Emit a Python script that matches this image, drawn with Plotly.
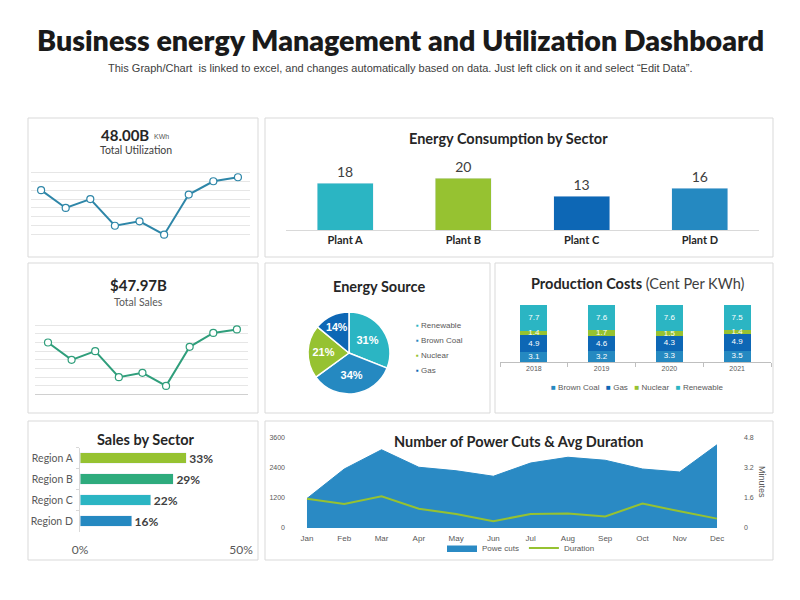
import plotly.graph_objects as go

W, H = 800, 600
def fx(x):
    return x / W
def fy(y):
    return 1 - y / H

# ---------------- DATA ----------------
util_points = [6.0, 4.0, 5.0, 2.0, 2.5, 1.0, 5.5, 7.0, 7.45]
sales_points = [6.0, 4.0, 5.0, 2.0, 2.5, 1.0, 5.5, 7.1, 7.5]

plants = ["Plant A", "Plant B", "Plant C", "Plant D"]
plant_consumption = [18, 20, 13, 16]

sources = ["Renewable", "Brown Coal", "Nuclear", "Gas"]
source_share = [31, 34, 21, 14]

years = ["2018", "2019", "2020", "2021"]
cost_series = ["Brown Coal", "Gas", "Nuclear", "Renewable"]
cost_brown_coal = [3.1, 3.2, 3.3, 3.5]
cost_gas = [4.9, 4.6, 4.3, 4.9]
cost_nuclear = [1.4, 1.7, 1.5, 1.4]
cost_renewable = [7.7, 7.6, 7.6, 7.5]

regions = ["Region A", "Region B", "Region C", "Region D"]
region_sales = [33, 29, 22, 16]
sales_axis_ticks = [0, 50]

months = ["Jan", "Feb", "Mar", "Apr", "May", "Jun",
          "Jul", "Aug", "Sep", "Oct", "Nov", "Dec"]
power_cuts = [1180, 2360, 3130, 2430, 2290, 2070, 2600, 2830, 2710, 2360, 2240, 3330]
duration = [1.56, 1.28, 1.69, 1.03, 0.75, 0.36, 0.75, 0.78, 0.62, 1.30, 0.89, 0.50]
cuts_ticks = [0, 1200, 2400, 3600]
duration_ticks = [0, 1.6, 3.2, 4.8]

# ---------------- COLORS / FONTS ----------------
TEAL = "#2BB5C3"
GREEN = "#96C231"
DBLUE = "#0D67B5"
MBLUE = "#2589C1"
SEAGREEN = "#2EAB7D"
GRAY_TXT = "#595959"
DARK_TXT = "#262626"
BORDER = "#D9D9D9"
TFONT = "Lato"
BFONT = "Liberation Sans"

fig = go.Figure()

# ---------- Panel 1: utilization line ----------
fig.add_trace(go.Scatter(
    x=list(range(len(util_points))), y=util_points, mode="lines+markers",
    line=dict(color="#2E86A8", width=2),
    marker=dict(size=7, color="white", line=dict(color="#2E86A8", width=1.2)),
    xaxis="x", yaxis="y", showlegend=False, hoverinfo="skip"))

# ---------- Panel 2: energy consumption bars ----------
fig.add_trace(go.Bar(
    x=plants, y=plant_consumption, width=0.475,
    marker=dict(color=[TEAL, GREEN, DBLUE, MBLUE]),
    text=plant_consumption, textposition="outside", constraintext="none",
    textfont=dict(size=14, color="#404040", family=TFONT),
    cliponaxis=False, xaxis="x2", yaxis="y2", showlegend=False, hoverinfo="skip"))

# ---------- Panel 3: sales line ----------
fig.add_trace(go.Scatter(
    x=list(range(len(sales_points))), y=sales_points, mode="lines+markers",
    line=dict(color="#2F9E7B", width=2),
    marker=dict(size=7, color="white", line=dict(color="#2F9E7B", width=1.2)),
    xaxis="x3", yaxis="y3", showlegend=False, hoverinfo="skip"))

# ---------- Panel 4: pie ----------
pie_colors = [TEAL, MBLUE, GREEN, DBLUE]
fig.add_trace(go.Pie(
    labels=sources, values=source_share, sort=False, direction="clockwise",
    rotation=0, marker=dict(colors=pie_colors, line=dict(color="white", width=1.5)),
    texttemplate="%{value}%", textposition="inside", insidetextorientation="horizontal",
    textfont=dict(size=11, color="white", family=BFONT, weight="bold"),
    domain=dict(x=[fx(308), fx(390)], y=[fy(394), fy(312)]),
    showlegend=False, hoverinfo="skip"))

# ---------- Panel 5: production costs (100% stacked) ----------
cost_values = [cost_brown_coal, cost_gas, cost_nuclear, cost_renewable]
cost_colors = [MBLUE, DBLUE, GREEN, TEAL]
totals = [sum(col) for col in zip(*cost_values)]
shares = [[v / t * 100 for v, t in zip(vals, totals)] for vals in cost_values]
for name, sh, col in zip(cost_series, shares, cost_colors):
    fig.add_trace(go.Bar(
        x=years, y=sh, name=name, width=0.4, marker=dict(color=col, line=dict(width=0)),
        xaxis="x4", yaxis="y4", showlegend=False, hoverinfo="skip"))
# segment labels (drawn on top of all segments)
cum = [0.0] * len(years)
for vals, sh in zip(cost_values, shares):
    mids = [c + s / 2 for c, s in zip(cum, sh)]
    cum = [c + s for c, s in zip(cum, sh)]
    fig.add_trace(go.Scatter(
        x=years, y=mids, mode="text", text=[f"{v:.1f}" for v in vals],
        textfont=dict(size=8, color="white", family=BFONT),
        xaxis="x4", yaxis="y4", showlegend=False, hoverinfo="skip", cliponaxis=False))

# ---------- Panel 6: sales by sector ----------
fig.add_trace(go.Bar(
    y=regions, x=region_sales, orientation="h", width=0.48,
    marker=dict(color=[GREEN, SEAGREEN, TEAL, MBLUE]),
    texttemplate="%{x}%", textposition="outside", cliponaxis=False, constraintext="none",
    textfont=dict(size=12, color="#404040", family=TFONT, weight="bold"),
    xaxis="x5", yaxis="y5", showlegend=False, hoverinfo="skip"))

# ---------- Panel 7: power cuts & duration ----------
fig.add_trace(go.Scatter(
    x=months, y=power_cuts, mode="lines", fill="tozeroy", name="Powe cuts",
    line=dict(color="#2A8AC4", width=1), fillcolor="#2A8AC4",
    xaxis="x6", yaxis="y6", legend="legend4", hoverinfo="skip"))
fig.add_trace(go.Scatter(
    x=months, y=duration, mode="lines", name="Duration",
    line=dict(color=GREEN, width=2),
    xaxis="x6", yaxis="y7", legend="legend4", hoverinfo="skip"))

hidden = dict(showgrid=False, showticklabels=False, zeroline=False, showline=False, ticks="",
              automargin=False)

panels = [(28, 118, 258, 257), (265, 118, 773, 257), (28, 263, 258, 413),
          (265, 263, 490, 413), (495, 263, 773, 413), (28, 421, 258, 560),
          (265, 421, 773, 560)]
shapes = [dict(type="rect", xref="paper", yref="paper", x0=fx(a), x1=fx(c), y0=fy(d), y1=fy(b),
               line=dict(color=BORDER, width=1), fillcolor="white", layer="below")
          for a, b, c, d in panels]

def ann(text, x, y, size, color=DARK_TXT, family=TFONT, weight="normal", xanchor="center", angle=0):
    return dict(text=text, x=fx(x), y=fy(y), xref="paper", yref="paper", showarrow=False,
                xanchor=xanchor, yanchor="middle", textangle=angle,
                font=dict(size=size, color=color, family=family, weight=weight))

annotations = [
    ann("Business energy Management and Utilization Dashboard", 400, 40, 28.6, "#1A1A1A", TFONT, 800),
    ann("This Graph/Chart  is linked to excel, and changes automatically based on data. Just left click on it and select \u201cEdit Data\u201d.",
        400, 68, 11, "#404040", BFONT),
    ann("48.00B", 125, 135, 15, DARK_TXT, TFONT, "bold"),
    ann("KWh", 161, 136, 7, GRAY_TXT, BFONT),
    ann("Total Utilization", 136, 150, 10.5, "#404040", TFONT),
    ann("Energy Consumption by Sector", 508, 138, 14.5, DARK_TXT, TFONT, "bold"),
    ann("$47.97B", 138, 285, 15, DARK_TXT, TFONT, "bold"),
    ann("Total Sales", 138, 302, 10.5, GRAY_TXT, TFONT),
    ann("Energy Source", 379, 286, 14.5, DARK_TXT, TFONT, "bold"),
    ann("<b>Production Costs</b> <span style='font-weight:normal;color:#404040'>(Cent Per KWh)</span>",
        637, 283, 14.5, DARK_TXT, TFONT),
    ann("Sales by Sector", 146, 440, 14.5, DARK_TXT, TFONT, "bold"),
    ann("Number of Power Cuts & Avg Duration", 518, 441, 14.5, DARK_TXT, TFONT, "bold"),
    ann("Minutes", 762, 482, 9, GRAY_TXT, BFONT, angle=90),
]
# pie legend (text entries built from the categories)
for i, (lab, col) in enumerate(zip(sources, pie_colors)):
    annotations.append(ann(f"<span style='color:{col}'>\u25aa</span> {lab}", 414, 325 + i * 15.3,
                           8, GRAY_TXT, BFONT, xanchor="left"))
# production costs legend
leg_txt = "   ".join(f"<span style='color:{c}'>\u25a0</span> {n}" for n, c in zip(cost_series, cost_colors))
annotations.append(ann(leg_txt, 637, 387, 8, GRAY_TXT, BFONT))

fig.update_layout(
    width=W, height=H, autosize=False,
    margin=dict(l=0, r=0, t=0, b=0, pad=0, autoexpand=False),
    paper_bgcolor="white", plot_bgcolor="rgba(0,0,0,0)",
    font=dict(family=BFONT, color=GRAY_TXT),
    barmode="stack", shapes=shapes, annotations=annotations,
    # Panel 1
    xaxis=dict(domain=[fx(31), fx(250)], range=[-0.41, 8.49], **hidden),
    yaxis=dict(domain=[fy(244), fy(163)], range=[-0.05, 9.05], dtick=1, showgrid=True,
               gridcolor="#E6E6E6", gridwidth=1, zeroline=False, showticklabels=False, anchor="x",
               automargin=False),
    # Panel 2
    xaxis2=dict(domain=[fx(286), fx(759)], type="category", range=[-0.5, 3.5], anchor="y2",
                showline=True, linecolor=BORDER, ticks="", showgrid=False, automargin=False,
                tickfont=dict(size=11, color=DARK_TXT, family=TFONT, weight="bold")),
    yaxis2=dict(domain=[fy(230), fy(165)], range=[0, 25], anchor="x2", **hidden),
    # Panel 3
    xaxis3=dict(domain=[fx(35), fx(248)], range=[-0.55, 8.47], anchor="y3", **hidden),
    yaxis3=dict(domain=[fy(395), fy(316)], range=[-0.05, 9.05], dtick=1, showgrid=True,
                gridcolor="#E6E6E6", zeroline=True, zerolinecolor="#D0D0D0", zerolinewidth=1,
                showticklabels=False, anchor="x3", automargin=False),
    # Panel 5
    xaxis4=dict(domain=[fx(500), fx(771)], type="category", range=[-0.5, 3.5], anchor="y4",
                showline=True, linecolor="#BFBFBF", ticks="outside", tickson="boundaries",
                ticklen=4, tickcolor="#BFBFBF", showgrid=False, automargin=False,
                tickfont=dict(size=7, color=GRAY_TXT)),
    yaxis4=dict(domain=[fy(362), fy(305)], range=[0, 100.5], tickvals=[100], showgrid=True,
                gridcolor=BORDER, zeroline=False, showticklabels=False, anchor="x4",
                automargin=False),
    # Panel 6
    xaxis5=dict(domain=[fx(80), fx(241)], range=[0, 50], tickvals=sales_axis_ticks,
                ticktext=[f"{v}%" for v in sales_axis_ticks], automargin=False,
                showgrid=False, zeroline=False, showline=False, anchor="y5", ticklabelstandoff=9,
                tickfont=dict(size=12, color=GRAY_TXT, family=TFONT)),
    yaxis5=dict(domain=[fy(531.5), fy(447.5)], type="category", range=[3.5, -0.5], anchor="x5",
                showline=True, linecolor=BORDER, ticks="outside", tickson="boundaries",
                ticklen=3, tickcolor=BORDER, showgrid=False, automargin=False,
                ticklabelstandoff=4,
                tickfont=dict(size=10.5, color=GRAY_TXT, family=TFONT)),
    # Panel 7
    xaxis6=dict(domain=[fx(286), fx(738)], type="category", range=[-0.563, 11.563], anchor="y6",
                showgrid=False, zeroline=False, showline=False, ticks="", ticklabelstandoff=4,
                automargin=False, tickfont=dict(size=8, color=GRAY_TXT)),
    yaxis6=dict(domain=[fy(528), fy(438)], range=[0, 3600], tickvals=cuts_ticks,
                showgrid=False, zeroline=False, anchor="x6", automargin=False,
                tickfont=dict(size=7, color=GRAY_TXT)),
    yaxis7=dict(overlaying="y6", side="right", range=[0, 4.8], tickvals=duration_ticks,
                showgrid=False, zeroline=False, anchor="x6", ticklabelstandoff=5,
                automargin=False, tickfont=dict(size=7, color=GRAY_TXT)),
    legend4=dict(x=fx(521), y=fy(548), xanchor="center", yanchor="middle", orientation="h",
                 font=dict(size=8, color=GRAY_TXT), bgcolor="rgba(0,0,0,0)", itemwidth=30),
)

fig.write_html("out.html")
